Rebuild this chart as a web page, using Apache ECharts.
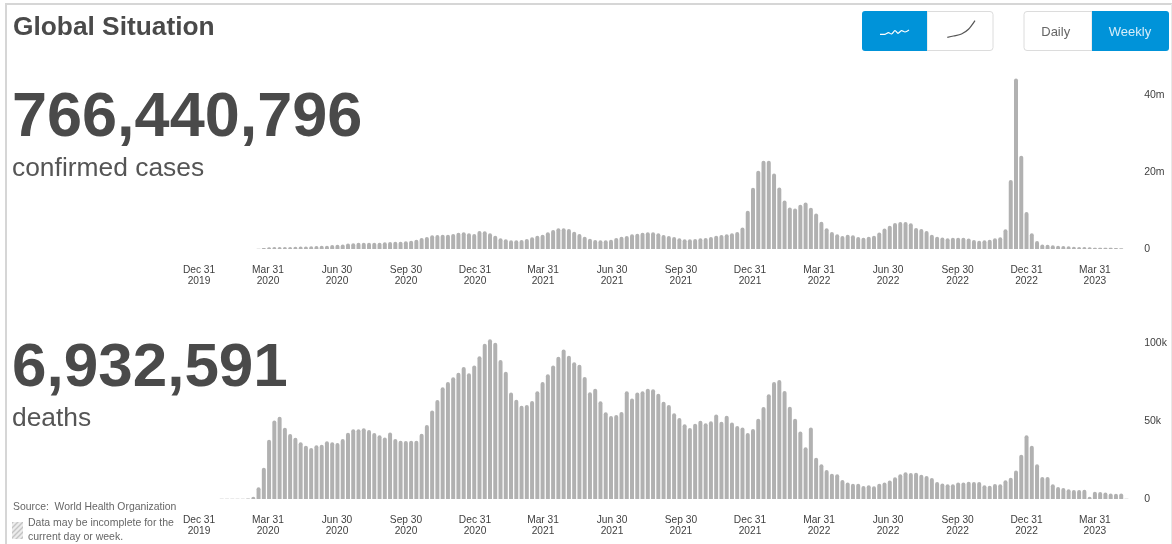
<!DOCTYPE html>
<html>
<head>
<meta charset="utf-8">
<style>html,body{margin:0;padding:0;background:#fff}#c{width:1172px;height:544px}</style>
<script src="https://cdn.jsdelivr.net/npm/echarts@6/dist/echarts.min.js"></script>
</head>
<body>
<div id="c"></div>
<script>
// weekly confirmed cases, millions
const casesM = [0,0,0,0,0.01,0.01,0.01,0.01,0.01,0.02,0.02,0.06,0.25,0.45,0.5,0.55,0.55,0.55,0.6,0.65,0.65,0.7,0.8,0.85,
0.87,1.05,1.13,1.2,1.4,1.5,1.65,1.65,1.65,1.65,1.65,1.75,1.82,1.9,1.9,2.0,2.16,2.4,2.86,3.1,3.55,3.64,3.72,3.72,3.9,4.24,4.33,4.07,3.9,4.68,4.6,4.07,3.46,2.77,
2.5,2.25,2.25,2.34,2.6,3.03,3.46,3.72,4.33,4.94,5.37,5.37,5.2,4.5,3.9,3.2,2.68,2.34,2.25,2.25,2.42,2.86,3.2,3.38,3.8,3.98,4.24,4.33,4.33,4.07,3.64,3.38,3.1,2.77,2.5,2.5,2.6,2.77,2.86,3.1,3.46,3.64,3.8,
4.07,4.4,5.6,9.96,15.9,20.3,22.9,22.9,19.6,16,12.6,10.8,10.5,11.5,12.1,10.7,9.2,7.1,5.4,4.4,3.8,3.4,3.7,3.55,3.1,2.9,3.2,3.46,4.3,5.3,6.06,6.75,7,7,6.67,5.45,5.2,4.7,3.7,3.2,3,2.77,2.94,2.94,2.94,2.7,2.34,2.16,2.25,2.42,2.77,3.03,5.1,17.9,44.3,24.2,9.6,4.07,2.08,1.2,1.1,0.95,0.87,0.78,0.7,0.6,0.52,0.5,0.43,0.35,0.3,0.3,0.3,0.25,0.2,0.02];
// weekly deaths, thousands
const deathsK = [0,0,0,0.05,0.1,0.1,0.1,0.1,0.2,0.3,1.5,7.5,20,38,50.4,52.8,45.7,41.7,39.3,36.3,34.2,32.7,34.4,34.8,37,36.3,35.9,38.5,42.5,44.7,44.7,45.3,44.2,42.3,40.8,39.5,42.7,38.5,37.4,37.2,37.4,37.4,41.9,47.4,56.8,63.5,71.6,75,78,81,84.6,80.6,85.5,91.5,99.6,102.4,100.2,89.1,81.6,68.2,63.7,59.8,60.3,62.8,69,75,79.9,
85.5,91.2,95.9,91.9,87.6,86.1,78.2,68.4,70.7,62.6,55.6,53.2,53.8,55.8,69,64.5,68.2,69,70.7,70.3,67.5,62.4,60.3,54.9,51.9,47.9,45.5,48.3,50.2,48.5,49.8,54.1,49.6,53.4,49.1,46.8,45.9,42.3,44.9,51.5,59,67.1,75,76.3,69.2,59.2,51.5,43.2,33.1,45.9,26.5,22.2,18.6,16.2,15.8,12.2,10.5,9.8,9.8,
8.3,8.8,8.1,9.8,10.5,11.8,13.9,15.8,17.1,16.7,16.9,15.6,14.7,13.5,10.9,10,9.4,9.4,10.5,10.5,11.1,10.9,10.9,8.8,8.5,9.6,9.4,12,13.7,18.2,28.4,40.8,34.2,22.2,14.1,14.1,9.4,7.7,7,6.2,5.8,5.8,6,1.5,4.7,4.5,4.1,3.6,3.4,3.6,0.1];
// date ticks, in weeks from the first bar
const tickWeeks = [-0.32,12.79,25.91,39.03,52.15,65.08,78.2,91.3,104.43,117.55,130.67,143.9,157,170];
const tickLabels = ['Dec 31\n2019','Mar 31\n2020','Jun 30\n2020','Sep 30\n2020','Dec 31\n2020','Mar 31\n2021','Jun 30\n2021','Sep 30\n2021','Dec 31\n2021','Mar 31\n2022','Jun 30\n2022','Sep 30\n2022','Dec 31\n2022','Mar 31\n2023'];
const casesTicks = [0,20,40];
const casesTickLabels = ['0','20m','40m'];
const deathsTicks = [0,50,100];
const deathsTickLabels = ['0','50k','100k'];

const ink = '#4a4a4a', blue = '#0093d9', barColor = '#b1b1b1', rule = '#d6d6d6', FONT = '"Liberation Sans", Arial, sans-serif';

function xAxis(i){
  return {type:'value',gridIndex:i,min:-1,max:178.6,splitLine:{show:false},axisLine:{show:false},axisTick:{show:false},
    axisLabel:{customValues:tickWeeks,margin:16,fontSize:10.2,lineHeight:10.8,color:'#3f3f3f',fontFamily:FONT,hideOverlap:false,
      showMinLabel:true,showMaxLabel:true,formatter:v=>tickLabels[tickWeeks.indexOf(v)]||''}};
}
function yAxis(i,max,ticks,labels){
  return {type:'value',gridIndex:i,position:'right',min:0,max:max,splitLine:{show:false},axisLine:{show:false},axisTick:{show:false},
    axisLabel:{customValues:ticks,margin:4,fontSize:10.5,color:'#3f3f3f',fontFamily:FONT,align:'left',padding:[2,0,0,0],
      formatter:v=>labels[ticks.indexOf(v)]||''}};
}
function bars(i,vals){
  return {type:'bar',xAxisIndex:i,yAxisIndex:i,data:vals.map((v,k)=>[k,v]),barWidth:4,silent:true,animation:false,
    itemStyle:{color:barColor,borderRadius:[2,2,0,0]}};
}
function txt(x,y,t,size,weight,color,extra){
  return {type:'text',x:x,y:y,silent:true,style:Object.assign({text:t,fontSize:size,fontWeight:weight||'normal',fill:color||ink,fontFamily:FONT,textVerticalAlign:'middle',verticalAlign:'middle'},extra||{})};
}
function poly(points,color,w){
  return {type:'polyline',silent:true,shape:{points:points,smooth:0.3},style:{stroke:color,lineWidth:w||1,fill:null}};
}
function hatch(){
  const c=document.createElement('canvas');c.width=5;c.height=5;const g=c.getContext('2d');
  g.fillStyle='#ececec';g.fillRect(0,0,5,5);g.strokeStyle='#c4c4c4';g.lineWidth=1.4;
  g.beginPath();g.moveTo(-1,6);g.lineTo(6,-1);g.moveTo(-1,1);g.lineTo(1,-1);g.moveTo(4,6);g.lineTo(6,4);g.stroke();
  return c;
}

const chart = echarts.init(document.getElementById('c'),null,{renderer:'canvas'});
chart.setOption({
  animation:false,
  backgroundColor:'#fff',
  grid:[
    {left:195.44,width:944.7,top:72,height:177},
    {left:195.44,width:944.7,top:335,height:164}
  ],
  xAxis:[xAxis(0),xAxis(1)],
  yAxis:[yAxis(0,45.97,casesTicks,casesTickLabels),yAxis(1,105.13,deathsTicks,deathsTickLabels)],
  series:[bars(0,casesM),bars(1,deathsK)],
  graphic:{elements:[
    {type:'line',silent:true,shape:{x1:5,y1:4,x2:1172,y2:4},style:{stroke:rule,lineWidth:2}},
    {type:'line',silent:true,shape:{x1:6,y1:4,x2:6,y2:544},style:{stroke:rule,lineWidth:2}},
    {type:'line',silent:true,shape:{x1:1171.5,y1:4,x2:1171.5,y2:544},style:{stroke:'#e8e8e8',lineWidth:1}},
    txt(13,28,'Global Situation',26.3,'bold',ink),
    txt(12,119,'766,440,796',63,'bold',ink),
    txt(12,169,'confirmed cases',26.4,'normal','#555'),
    txt(12,369,'6,932,591',62,'bold',ink),
    txt(12,419,'deaths',26.4,'normal','#555'),
    txt(13,507,'Source:  World Health Organization',10.4,'normal','#666'),
    txt(28,523.5,'Data may be incomplete for the',10.5,'normal','#666'),
    txt(28,537,'current day or week.',10.5,'normal','#666'),
    {type:'rect',silent:true,shape:{x:12,y:522,width:11,height:17},style:{fill:{image:hatch(),repeat:'repeat'}}},
    // buttons
    {type:'rect',silent:true,shape:{x:927,y:11.5,width:66,height:39,r:[0,3,3,0]},style:{fill:'#fff',stroke:'#dcdcdc',lineWidth:1}},
    {type:'rect',silent:true,shape:{x:862,y:11,width:65,height:40,r:[3,0,0,3]},style:{fill:blue}},
    {type:'rect',silent:true,shape:{x:1024,y:11.5,width:68,height:39,r:[3,0,0,3]},style:{fill:'#fff',stroke:'#dcdcdc',lineWidth:1}},
    {type:'rect',silent:true,shape:{x:1092,y:11,width:77,height:40,r:[0,3,3,0]},style:{fill:blue}},
    poly([[880,34.3],[885,34.3],[888.5,32.7],[891.5,34],[895,30.7],[898,33.3],[901.5,30.7],[905,32],[909,30]],'#fff',1.2),
    poly([[947.3,37.3],[953.5,36],[961.5,34],[968.5,29.3],[975,20.7]],'#555',1.2),
    txt(1055.7,32,'Daily',13,'normal','#666',{textAlign:'center',align:'center'}),
    txt(1130,32,'Weekly',13,'normal','#d6eefa',{textAlign:'center',align:'center'})
  ]}
});
</script>
</body>
</html>
